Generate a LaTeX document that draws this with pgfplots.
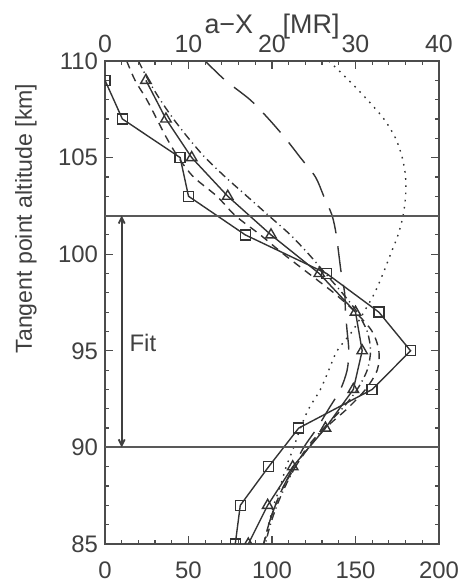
\documentclass[border=0pt]{standalone}
\usepackage{fontspec}
\setmainfont{Liberation Sans}
\usepackage{pgfplots}
\pgfplotsset{compat=1.18}
\usetikzlibrary{arrows.meta}

% measured emission profiles (bottom scale units)
\pgfplotstableread{
alt val
109 0
107 10.4
105 45
103 50
101 84
99  132.7
97  164
95  183
93  160
91  116
89  98
87  81
85  78
}\squares
\pgfplotstableread{
alt val
109 24.5
107 36.5
105 51.9
103 73.5
101 99.4
99  128.3
97  150
95  154
93  148.7
91  132
89  112.4
87  97.4
85  85.8
}\triangles
% model profiles
\pgfplotstableread{
alt dot ldash sdash ddot
110 134   60    13   20
109 146   72    18   26
108 157   86.8  25   33
107 167   98    31   41
106 174   108   37   50
105 178   117   44   60
104 180   126   53   72
103 180   131   67   85
102 178.5 136   78   98
101 175.5 138.5 93   111
100 171   140   107  122
99  166.5 141.5 122  132
98  161.5 143.5 137  142
97  155   144   150  151
96  148   145   160  157
95  139   146   164  159
94  134   145   163  157
93  129   141   156  151
92  122   134   145  142
91  117   127   132  131
90  113   119   122  121
89  108.5 113   114  114
88  105   107   107  108
87  101   102   102  103
86  98    98    98   99
85  95.5  95    95   96
}\models

\pgfplotsset{
  every axis/.append style={
    scale only axis, width=167bp, height=241.5bp,
    at={(0,0)}, anchor=south west,
    tick align=inside,
    major tick length=4bp, minor tick length=2bp,
    axis line style={line width=0.8bp, black!70},
    every tick/.style={line width=0.6bp, black!70},
    /pgf/number format/assume math mode=true,
    tick label style={font=\fontsize{12}{14}\selectfont, text=black!75},
    label style={text=black!75},
  },
  prof/.style={line width=0.7bp, black!80},
}

\begin{document}
\begin{tikzpicture}
\begin{axis}[
  xmin=0, xmax=200, ymin=85, ymax=110,
  xtick={0,50,...,200}, minor x tick num=4,
  ytick={85,90,...,110}, minor y tick num=4,
  xtick pos=bottom, ytick pos=both,
  xticklabel style={yshift=-5.5bp},
  ylabel={Tangent point altitude [km]},
  ylabel style={font=\fontsize{11.6}{14}\selectfont, at={(axis description cs:-0.237,0.674)}, anchor=center},
  clip marker paths=true,
]
\addplot[prof, dotted, dash pattern=on 0.8bp off 2.8bp, smooth] table[x=dot, y=alt] {\models};
\addplot[prof, dash pattern=on 13bp off 6.5bp, smooth] table[x=ldash, y=alt] {\models};
\addplot[prof, dash pattern=on 4bp off 3bp, smooth] table[x=sdash, y=alt] {\models};
\addplot[prof, dash pattern=on 4bp off 2bp on 0.6bp off 2bp, smooth] table[x=ddot, y=alt] {\models};
\addplot[prof, mark=square, mark size=2.5bp, mark options={solid, line width=0.7bp}] table[x=val, y=alt] {\squares};
\addplot[prof, mark=triangle, mark size=3bp, mark options={solid, line width=0.7bp}] table[x=val, y=alt] {\triangles};
\draw[line width=1bp, black!65] (axis cs:0,102) -- (axis cs:200,102);
\draw[line width=1bp, black!65] (axis cs:0,90) -- (axis cs:200,90);
\draw[line width=0.9bp, black!75, {Straight Barb[length=3bp,width=3bp]}-{Straight Barb[length=3bp,width=3bp]}] (axis cs:10,102) -- (axis cs:10,90);
\node[anchor=west, font=\fontsize{12}{14}\selectfont, text=black!75, inner sep=0pt] at (axis cs:14.5,95.4) {Fit};
\end{axis}
\begin{axis}[
  xmin=0, xmax=40, ymin=85, ymax=110,
  axis x line*=top, axis y line=none,
  tick align=inside,
  xtick={0,10,...,40}, minor x tick num=4,
  xticklabel style={yshift=0.8bp, font=\fontsize{12.5}{14}\selectfont},
  xlabel={a−X\hspace{1.1em}[MR]},
  xlabel style={font=\fontsize{13.5}{15}\selectfont, yshift=-9bp},
]
\end{axis}
\pgfresetboundingbox
\path[use as bounding box] (-52.5bp,-18bp) rectangle (181bp,272bp);
\end{tikzpicture}
\end{document}
